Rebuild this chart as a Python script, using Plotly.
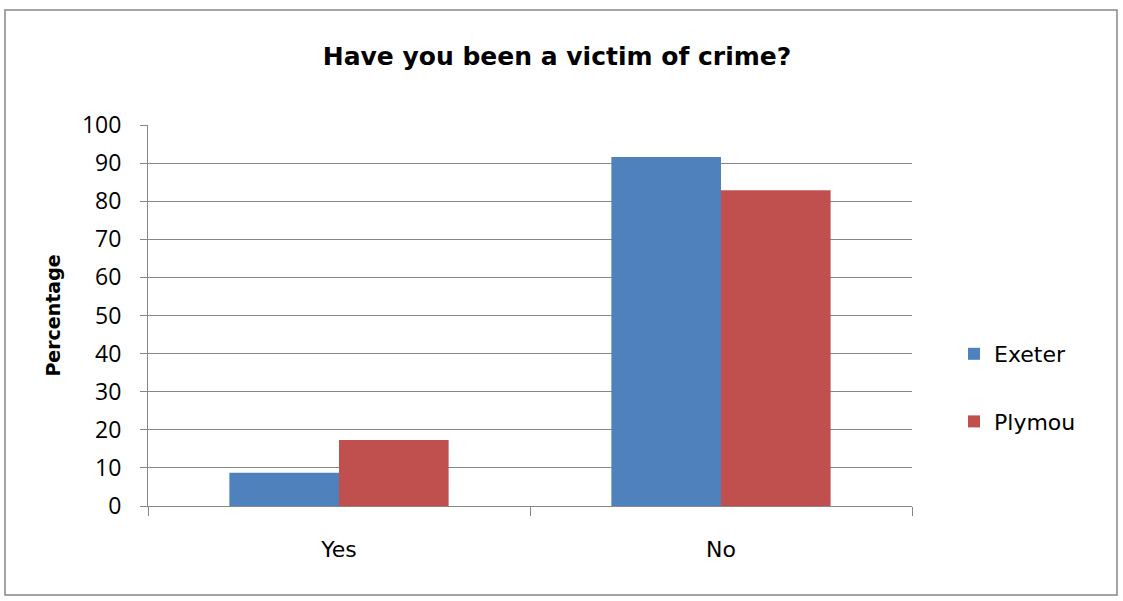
import plotly.graph_objects as go

categories = ["Yes", "No"]
exeter = [8.7, 91.6]
plymouth = [17.3, 82.9]
series_names = ["Exeter", "Plymou"]
y_ticks = [0, 10, 20, 30, 40, 50, 60, 70, 80, 90, 100]

BLUE = "#4F81BD"
RED = "#C0504D"
GRID = "#868686"

fig = go.Figure()
fig.add_trace(go.Bar(x=categories, y=exeter, name=series_names[0],
                     marker=dict(color=BLUE, line=dict(width=0)), legendgroup="a"))
fig.add_trace(go.Bar(x=categories, y=plymouth, name=series_names[1],
                     marker=dict(color=RED, line=dict(width=0)), legendgroup="b"))

L, R, T, B = 148, 1123 - 912, 125, 601 - 506
W, H = 1123, 601
pw, ph = W - L - R, H - T - B

def px_x(x):
    return (x - L) / pw

def px_y(y):
    return (H - B - y) / ph

fig.update_layout(
    width=W, height=H,
    margin=dict(l=L, r=R, t=T, b=B, pad=0),
    paper_bgcolor="white", plot_bgcolor="white",
    barmode="group", bargap=0.426, bargroupgap=0,
    font=dict(family="Open Sans, DejaVu Sans, sans-serif", color="#000000", size=20),
    title=dict(text="<b>Have you been a victim of crime?</b>",
               x=557 / W, xanchor="center", y=1 - 56 / H, yanchor="middle",
               font=dict(family="DejaVu Sans, sans-serif", size=25, color="#000000")),
    legend=dict(x=px_x(954), xanchor="left", y=px_y(388), yanchor="middle",
                font=dict(size=22, family="DejaVu Sans, sans-serif"),
                tracegroupgap=36, bgcolor="rgba(0,0,0,0)", itemwidth=30),
    showlegend=True,
    xaxis=dict(showline=True, linecolor=GRID, linewidth=1,
               ticks="outside", tickson="boundaries", ticklen=9, tickcolor=GRID,
               ticklabelstandoff=24,
               tickfont=dict(size=22, family="DejaVu Sans, sans-serif"),
               showgrid=False, zeroline=False),
    yaxis=dict(range=[0, 100], tickvals=y_ticks, showline=True, linecolor=GRID,
               linewidth=1, ticks="outside", ticklen=7, tickcolor=GRID,
               ticklabelstandoff=14,
               showgrid=True, gridcolor=GRID, gridwidth=1, zeroline=False,
               tickfont=dict(size=23, family="Open Sans, sans-serif"),
               title=dict(text="<b>Percentage</b>", standoff=16,
                          font=dict(size=19, family="DejaVu Sans, sans-serif"))),
    shapes=[dict(type="rect", xref="paper", yref="paper",
                 x0=px_x(5), x1=px_x(1117), y0=px_y(595), y1=px_y(10),
                 line=dict(color=GRID, width=1.5), fillcolor="rgba(0,0,0,0)", layer="below")],
)

fig.write_html("out.html", config={"displayModeBar": False},
               post_script="document.body.style.margin='0';document.body.style.padding='0';")
